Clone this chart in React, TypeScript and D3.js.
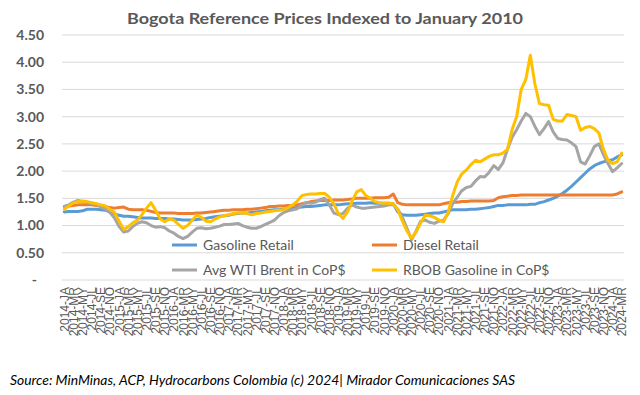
import React from 'react'
import { scaleBand, scaleLinear, line } from 'd3'

// monthly, Jan 2014 .. Mar 2024 (one row per year)
const years = [2014, 2015, 2016, 2017, 2018, 2019, 2020, 2021, 2022, 2023, 2024]
const monthCodes = ['JA', 'FE', 'MR', 'AP', 'MY', 'JN', 'JL', 'AU', 'SE', 'OC', 'NO', 'DE']
const categories = years.flatMap(y => monthCodes.map(m => `${y}-${m}`)).slice(0, 123)

const gasolineRetail = [
  1.25, 1.26, 1.26, 1.26, 1.27, 1.30, 1.30, 1.30, 1.29, 1.28, 1.25, 1.21,
  1.19, 1.17, 1.17, 1.16, 1.15, 1.14, 1.14, 1.14, 1.13, 1.13, 1.13, 1.12,
  1.12, 1.11, 1.10, 1.10, 1.10, 1.11, 1.12, 1.13, 1.15, 1.16, 1.17, 1.18,
  1.19, 1.21, 1.22, 1.23, 1.23, 1.24, 1.25, 1.26, 1.27, 1.28, 1.29, 1.29,
  1.30, 1.31, 1.32, 1.33, 1.34, 1.35, 1.35, 1.36, 1.37, 1.38, 1.38, 1.38,
  1.38, 1.39, 1.40, 1.40, 1.41, 1.41, 1.41, 1.42, 1.41, 1.41, 1.41, 1.41,
  1.40, 1.25, 1.20, 1.19, 1.19, 1.19, 1.20, 1.21, 1.22, 1.23, 1.23, 1.25,
  1.27, 1.29, 1.29, 1.29, 1.29, 1.30, 1.30, 1.31, 1.32, 1.33, 1.35, 1.37,
  1.37, 1.38, 1.38, 1.38, 1.38, 1.38, 1.39, 1.39, 1.42, 1.44, 1.47, 1.50,
  1.54, 1.59, 1.65, 1.72, 1.80, 1.88, 1.96, 2.04, 2.10, 2.14, 2.17, 2.19,
  2.21, 2.26, 2.30,
]
const dieselRetail = [
  1.35, 1.36, 1.37, 1.38, 1.38, 1.38, 1.38, 1.37, 1.36, 1.35, 1.33, 1.32,
  1.33, 1.34, 1.30, 1.29, 1.29, 1.29, 1.28, 1.26, 1.24, 1.23, 1.23, 1.23,
  1.23, 1.22, 1.22, 1.22, 1.22, 1.23, 1.23, 1.24, 1.25, 1.26, 1.27, 1.28,
  1.28, 1.29, 1.29, 1.29, 1.30, 1.30, 1.31, 1.32, 1.33, 1.35, 1.35, 1.36,
  1.36, 1.37, 1.37, 1.38, 1.40, 1.42, 1.44, 1.45, 1.46, 1.46, 1.46, 1.47,
  1.47, 1.47, 1.48, 1.49, 1.50, 1.50, 1.50, 1.50, 1.51, 1.51, 1.51, 1.52,
  1.58, 1.42, 1.39, 1.38, 1.38, 1.38, 1.38, 1.38, 1.38, 1.38, 1.38, 1.40,
  1.42, 1.43, 1.43, 1.44, 1.44, 1.45, 1.45, 1.45, 1.45, 1.45, 1.46, 1.51,
  1.53, 1.54, 1.55, 1.55, 1.56, 1.56, 1.56, 1.56, 1.56, 1.56, 1.56, 1.56,
  1.56, 1.56, 1.56, 1.56, 1.56, 1.56, 1.56, 1.56, 1.56, 1.56, 1.56, 1.56,
  1.56, 1.58, 1.62,
]
const avgWtiBrent = [
  1.35, 1.38, 1.43, 1.46, 1.44, 1.42, 1.41, 1.39, 1.34, 1.30, 1.24, 1.14,
  0.98, 0.88, 0.90, 0.98, 1.04, 1.07, 1.05, 1.00, 0.97, 0.98, 0.96, 0.90,
  0.86, 0.80, 0.76, 0.80, 0.88, 0.95, 0.96, 0.94, 0.95, 0.97, 0.99, 1.02,
  1.02, 1.03, 1.04, 1.00, 0.97, 0.95, 0.95, 0.98, 1.02, 1.06, 1.10, 1.18,
  1.24, 1.27, 1.29, 1.31, 1.38, 1.42, 1.41, 1.43, 1.48, 1.50, 1.38, 1.23,
  1.20, 1.22, 1.32, 1.38, 1.34, 1.32, 1.32, 1.33, 1.34, 1.35, 1.36, 1.38,
  1.38, 1.30, 1.15, 0.95, 0.74, 0.90, 1.08, 1.10, 1.06, 1.04, 1.08, 1.10,
  1.22, 1.40, 1.52, 1.64, 1.70, 1.72, 1.82, 1.90, 1.89, 1.98, 2.10, 2.03,
  2.15, 2.40, 2.62, 2.76, 2.92, 3.06, 3.00, 2.82, 2.67, 2.78, 2.91, 2.72,
  2.60, 2.58, 2.57, 2.52, 2.45, 2.17, 2.13, 2.28, 2.45, 2.50, 2.30, 2.14,
  1.99, 2.06, 2.14,
]
const rbobGasoline = [
  1.30, 1.36, 1.42, 1.44, 1.45, 1.44, 1.42, 1.40, 1.38, 1.36, 1.30, 1.24,
  1.08, 0.93, 0.98, 1.05, 1.10, 1.20, 1.32, 1.42, 1.28, 1.12, 1.07, 1.12,
  1.10, 1.02, 0.95, 1.00, 1.10, 1.19, 1.15, 1.08, 1.07, 1.12, 1.16, 1.18,
  1.20, 1.22, 1.23, 1.23, 1.22, 1.20, 1.22, 1.23, 1.25, 1.26, 1.27, 1.28,
  1.29, 1.33, 1.38, 1.45, 1.55, 1.57, 1.58, 1.58, 1.59, 1.59, 1.52, 1.40,
  1.22, 1.13, 1.25, 1.45, 1.62, 1.66, 1.55, 1.50, 1.44, 1.42, 1.41, 1.41,
  1.40, 1.29, 1.08, 0.90, 0.77, 0.88, 1.05, 1.19, 1.18, 1.15, 1.10, 1.07,
  1.24, 1.55, 1.80, 1.95, 2.02, 2.12, 2.20, 2.17, 2.22, 2.27, 2.30, 2.30,
  2.33, 2.40, 2.76, 3.00, 3.50, 3.68, 4.13, 3.60, 3.24, 3.22, 3.21, 2.95,
  2.92, 2.92, 3.04, 3.02, 3.00, 2.75, 2.80, 2.82, 2.78, 2.70, 2.40, 2.20,
  2.14, 2.17, 2.33,
]
const yTicks = [0, 0.5, 1, 1.5, 2, 2.5, 3, 3.5, 4, 4.5]

const series = [
  { name: 'Gasoline Retail', values: gasolineRetail, color: '#5B9BD5' },
  { name: 'Diesel Retail', values: dieselRetail, color: '#ED7D31' },
  { name: 'Avg WTI Brent in CoP$', values: avgWtiBrent, color: '#A5A5A5' },
  { name: 'RBOB Gasoline in CoP$', values: rbobGasoline, color: '#FFC000' },
]

export default () => {
  const width = 640
  const height = 395
  const x = scaleBand().domain(categories).range([62, 624])
  const y = scaleLinear().domain([0, 4.5]).range([280, 35])
  const cx = (c: string) => (x(c) as number) + x.bandwidth() / 2
  const path = (vals: number[]) =>
    line<number>()
      .x((_, i) => cx(categories[i]))
      .y(d => y(d))(vals) as string

  // legend slots: two rows, two columns
  const legendPos = [
    [172, 245],
    [372, 245],
    [172, 270],
    [372, 270],
  ]

  return (
    <svg
      width={width}
      height={height}
      viewBox={`0 0 ${width} ${height}`}
      style={{ position: 'absolute', left: 0, top: 0, background: '#fff' }}
    >
      <text
        x={325}
        y={24}
        textAnchor="middle"
        fontFamily="Lato, 'Open Sans', sans-serif"
        fontWeight="bold"
        fontSize={16}
        fill="#595959"
        textLength={396}
        lengthAdjust="spacingAndGlyphs"
      >
        Bogota Reference Prices Indexed to January 2010
      </text>

      {yTicks.map(t => (
        <g key={t}>
          <line x1={62} x2={624} y1={y(t)} y2={y(t)} stroke="#D9D9D9" strokeWidth={1} />
          <text
            x={t === 0 ? 37 : 44}
            y={y(t)}
            dy="0.35em"
            textAnchor="end"
            fontFamily="Lato, sans-serif"
            fontWeight="bold"
            fontSize={14}
            fill="#595959"
          >
            {t === 0 ? '-' : t.toFixed(2)}
          </text>
        </g>
      ))}

      {categories.map((c, i) =>
        i % 2 === 0 ? (
          <text
            key={c}
            transform={`translate(${cx(c) + 4.5},287) rotate(-90)`}
            textAnchor="end"
            fontFamily="'Liberation Sans', Arial, sans-serif"
            fontSize={12}
            fill="#595959"
          >
            {c}
          </text>
        ) : null
      )}

      {series.map(s => (
        <path
          key={s.name}
          d={path(s.values)}
          fill="none"
          stroke={s.color}
          strokeWidth={3}
          strokeLinejoin="round"
          strokeLinecap="round"
        />
      ))}

      {series.map((s, i) => (
        <g key={s.name} transform={`translate(${legendPos[i][0]},${legendPos[i][1]})`}>
          <line x1={0} x2={25} y1={0} y2={0} stroke={s.color} strokeWidth={3} />
          <text
            x={31}
            y={0}
            dy="0.35em"
            fontFamily="Lato, sans-serif"
            fontSize={14}
            fill="#595959"
          >
            {s.name}
          </text>
        </g>
      ))}

      <text
        x={10}
        y={385}
        fontFamily="Lato, 'Open Sans', sans-serif"
        fontStyle="italic"
        fontSize={13}
        fill="#000"
        textLength={505}
        lengthAdjust="spacingAndGlyphs"
      >
        Source: MinMinas, ACP, Hydrocarbons Colombia (c) 2024| Mirador Comunicaciones SAS
      </text>
    </svg>
  )
}
